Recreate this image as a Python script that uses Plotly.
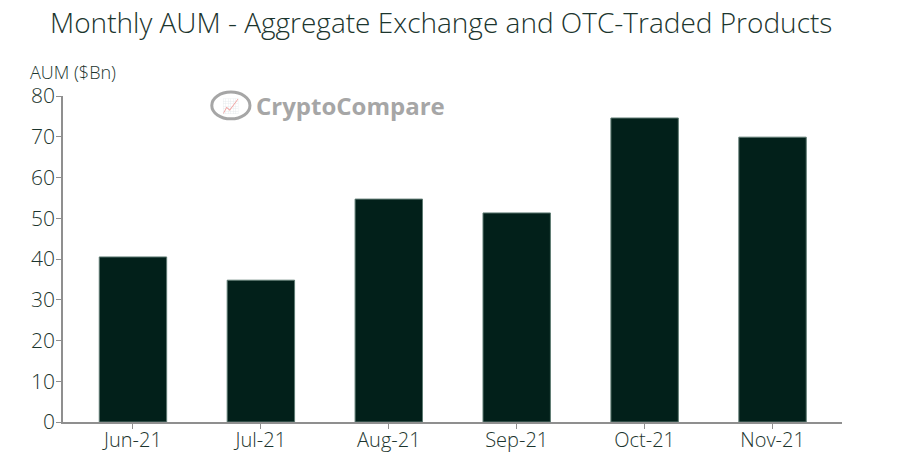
import plotly.graph_objects as go

# Monthly AUM, aggregate exchange and OTC-traded products ($Bn)
months = ["Jun-21", "Jul-21", "Aug-21", "Sep-21", "Oct-21", "Nov-21"]
aum_bn = [40.5, 34.8, 54.7, 51.3, 74.6, 69.9]
y_ticks = [0, 10, 20, 30, 40, 50, 60, 70, 80]

bar_color = "#02201a"
text_color = "#1c352e"
axis_color = "#8f8f8f"

fig = go.Figure()
fig.add_trace(go.Bar(
    x=list(range(len(months))),
    y=aum_bn,
    width=0.527,
    marker=dict(color=bar_color, line=dict(color="#5e7a72", width=1)),
    hoverinfo="y",
))

# page body adds ~8px offset, margins compensate for it
fig.update_layout(
    width=912, height=475,
    margin=dict(l=55, r=78, t=88, b=61),
    paper_bgcolor="white", plot_bgcolor="white",
    showlegend=False,
    font=dict(family="Open Sans, sans-serif", color=text_color),
    title=dict(
        text="Monthly AUM - Aggregate Exchange and OTC-Traded Products",
        x=0.475, xanchor="center", y=0.968, yanchor="middle",
        font=dict(size=28, color=text_color, family="Open Sans, sans-serif", weight=300),
    ),
    xaxis=dict(
        tickmode="array", tickvals=list(range(len(months))), ticktext=months,
        range=[-0.547, 5.543],
        showline=True, linecolor=axis_color, linewidth=1.5,
        ticks="outside", ticklen=5, tickcolor=axis_color,
        ticklabelstandoff=-6,
        showgrid=False, zeroline=False,
        tickfont=dict(size=20, color=text_color, weight=300),
    ),
    yaxis=dict(
        range=[0, 80], tickvals=y_ticks,
        showline=True, linecolor=axis_color, linewidth=1.5,
        ticks="outside", ticklen=5, tickcolor=axis_color,
        ticklabelstandoff=-3,
        showgrid=False, zeroline=False,
        tickfont=dict(size=21, color=text_color, weight=300),
    ),
)

# y-axis title above the axis
fig.add_annotation(
    text="AUM ($Bn)", xref="paper", yref="paper", x=-0.045, y=1.074,
    xanchor="left", yanchor="middle", showarrow=False,
    font=dict(size=18, color=text_color, weight=300),
)

# CryptoCompare watermark
fig.add_annotation(
    text="<b>CryptoCompare</b>", xref="paper", yref="paper", x=0.245, y=0.972,
    xanchor="left", yanchor="middle", showarrow=False,
    font=dict(size=24, color="#a6a6a6", family="Open Sans, sans-serif"),
)
fig.add_shape(
    type="circle", xref="paper", yref="paper",
    x0=0.191, x1=0.240, y0=0.93, y1=1.012,
    line=dict(color="#a6a6a6", width=3),
)
fig.add_annotation(
    text="📈", xref="paper", yref="paper", x=0.2155, y=0.97,
    xanchor="center", yanchor="middle", showarrow=False,
    font=dict(size=14, color="#a6a6a6"), opacity=0.5,
)

fig.write_html("out.html")
